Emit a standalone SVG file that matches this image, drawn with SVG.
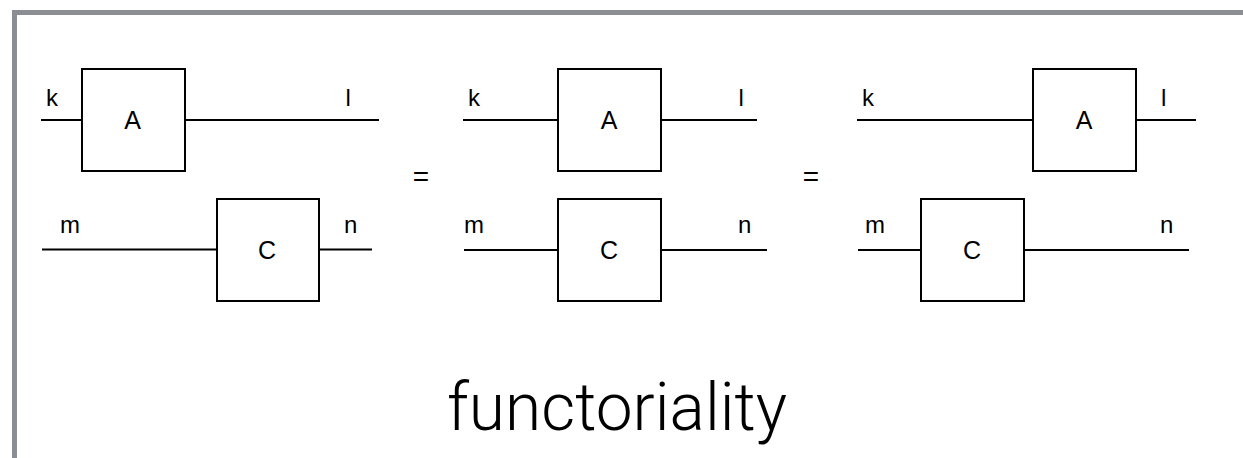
<svg xmlns="http://www.w3.org/2000/svg" width="1243" height="458" viewBox="0 0 1243 458">
  <style>
    .frame { fill: none; stroke: #8b8e92; stroke-width: 5; }
    .box { fill: #ffffff; stroke: #000000; stroke-width: 2; }
    .wire { stroke: #000000; stroke-width: 2; fill: none; }
    .lbl { font-family: "Liberation Sans", Arial, sans-serif; font-size: 24px; fill: #000000; }
    .name { font-family: "Liberation Sans", Arial, sans-serif; font-size: 25px; fill: #000000; text-anchor: middle; }
    .eq { font-family: "Liberation Sans", Arial, sans-serif; font-size: 28px; fill: #000000; text-anchor: middle; }
    .title { font-family: Roboto, "Liberation Sans", sans-serif; font-weight: 300; font-size: 67px; fill: #000000; }
  </style>

  <rect width="1243" height="458" fill="#ffffff"/>
  <!-- slide frame -->
  <rect class="frame" x="14.5" y="12.5" width="1300" height="500"/>

  <!-- wires -->
  <g id="connectors">
    <!-- left panel -->
    <line class="wire" x1="41" y1="120" x2="82" y2="120"/>
    <line class="wire" x1="185" y1="120" x2="379" y2="120"/>
    <line class="wire" x1="42" y1="249.5" x2="217" y2="249.5"/>
    <line class="wire" x1="319" y1="249.5" x2="372" y2="249.5"/>
    <!-- middle panel -->
    <line class="wire" x1="463" y1="120" x2="558" y2="120"/>
    <line class="wire" x1="661" y1="120" x2="757" y2="120"/>
    <line class="wire" x1="464" y1="250" x2="558" y2="250"/>
    <line class="wire" x1="661" y1="250" x2="767" y2="250"/>
    <!-- right panel -->
    <line class="wire" x1="857" y1="120" x2="1033" y2="120"/>
    <line class="wire" x1="1136" y1="120" x2="1196" y2="120"/>
    <line class="wire" x1="858" y1="250" x2="921" y2="250"/>
    <line class="wire" x1="1024" y1="250" x2="1189" y2="250"/>
  </g>

  <!-- left panel -->
  <g id="box-A-1">
    <rect class="box" x="82" y="69" width="103" height="102"/>
    <text class="name" x="132.5" y="129">A</text>
  </g>
  <g id="box-C-1">
    <rect class="box" x="217" y="199" width="102" height="102"/>
    <text class="name" x="267" y="258.5">C</text>
  </g>
  <g id="labels-1">
    <text class="lbl" x="46" y="106">k</text>
    <text class="lbl" x="345.5" y="106">l</text>
    <text class="lbl" x="60" y="233">m</text>
    <text class="lbl" x="344" y="233">n</text>
  </g>

  <text id="eq-1" class="eq" x="421" y="186">=</text>

  <!-- middle panel -->
  <g id="box-A-2">
    <rect class="box" x="558" y="69" width="103" height="102"/>
    <text class="name" x="609" y="129">A</text>
  </g>
  <g id="box-C-2">
    <rect class="box" x="558" y="199" width="103" height="102"/>
    <text class="name" x="609" y="258.5">C</text>
  </g>
  <g id="labels-2">
    <text class="lbl" x="468" y="106">k</text>
    <text class="lbl" x="738.5" y="106">l</text>
    <text class="lbl" x="464" y="233">m</text>
    <text class="lbl" x="738" y="233">n</text>
  </g>

  <text id="eq-2" class="eq" x="811" y="186">=</text>

  <!-- right panel -->
  <g id="box-A-3">
    <rect class="box" x="1033" y="69" width="103" height="102"/>
    <text class="name" x="1084" y="129">A</text>
  </g>
  <g id="box-C-3">
    <rect class="box" x="921" y="199" width="103" height="102"/>
    <text class="name" x="972" y="258.5">C</text>
  </g>
  <g id="labels-3">
    <text class="lbl" x="862" y="106">k</text>
    <text class="lbl" x="1161" y="106">l</text>
    <text class="lbl" x="865" y="233">m</text>
    <text class="lbl" x="1160" y="233">n</text>
  </g>

  <text id="title" class="title" x="447" y="430" textLength="340" lengthAdjust="spacingAndGlyphs">functoriality</text>
</svg>
